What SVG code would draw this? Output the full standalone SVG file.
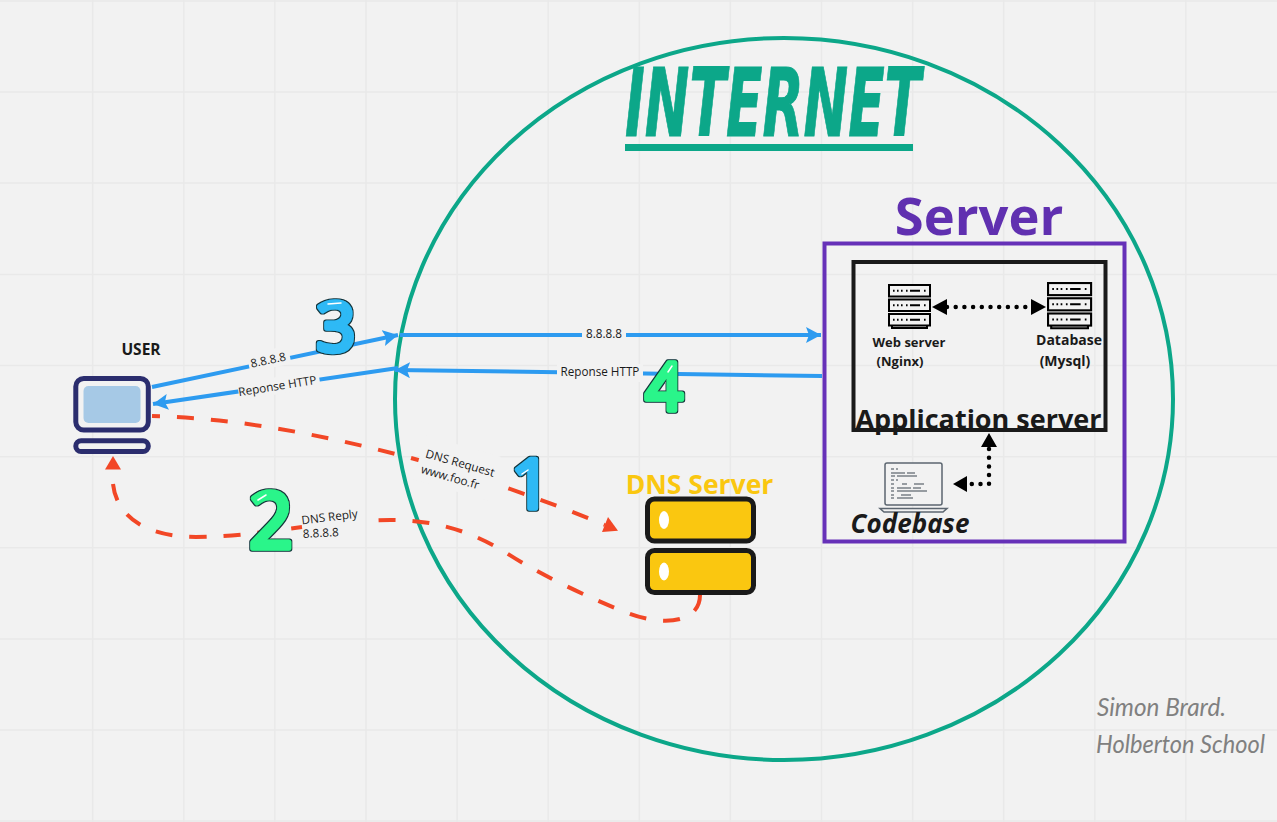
<svg xmlns="http://www.w3.org/2000/svg" width="1277" height="822" viewBox="0 0 1277 822">
<style>
text{font-family:"Open Sans","Liberation Sans",sans-serif;fill:#1a1a1a}
.grid line{stroke:#e9e9e9;stroke-width:1.5}
.blue{fill:none;stroke:#2d9bf0;stroke-width:4}
.red{fill:none;stroke:#f24726;stroke-width:4;stroke-dasharray:17 17}
.dots{fill:none;stroke:#000;stroke-width:4.5;stroke-linecap:round;stroke-dasharray:0 8.7}
.lab{font-size:11.7px;text-anchor:middle}
.gap{fill:#f2f2f2}
.b{font-weight:700}
.num{font-family:"Open Sans",sans-serif;font-weight:400;font-size:68px;stroke-width:5.5;stroke-linejoin:round;filter:url(#outline)}
.hand{font-family:"Lato","Liberation Sans",sans-serif;font-style:italic;font-weight:400;font-size:25px;fill:#808080}
.srv rect{fill:#f2f2f2;stroke:#000;stroke-width:2}
.srv path{fill:none;stroke:#000;stroke-width:2}
.hl{fill:none;stroke:#fff;stroke-width:1.5;stroke-linecap:round}
</style>
<defs>
<filter id="outline" x="-30%" y="-30%" width="160%" height="160%">
<feMorphology in="SourceAlpha" operator="dilate" radius="1.4" result="d"/>
<feFlood flood-color="#12343b"/>
<feComposite in2="d" operator="in" result="o"/>
<feMerge><feMergeNode in="o"/><feMergeNode in="SourceGraphic"/></feMerge>
</filter>
<marker id="ab" markerUnits="userSpaceOnUse" markerWidth="18" markerHeight="18" refX="15" refY="8" orient="auto-start-reverse"><path d="M0,0L15,8L0,16L3,8Z" fill="#2d9bf0"/></marker>
<g id="rack">
<g class="srv">
<rect x="1" y="1" width="41" height="11.5"/>
<rect x="1" y="15.5" width="41" height="11.5"/>
<rect x="1" y="30" width="41" height="11.5"/>
<path d="M4,41.5V44H39V41.5M5,6.7h1.6M9,6.7h1.6M13,6.7h1.6M18,6.7h1.6M22,6.7h10M36,6.7h1.6M5,21.2h1.6M9,21.2h1.6M13,21.2h1.6M18,21.2h1.6M22,21.2h10M36,21.2h1.6M5,35.7h1.6M9,35.7h1.6M13,35.7h1.6M18,35.7h1.6M22,35.7h10M36,35.7h1.6"/>
</g>
</g>
</defs>
<rect width="1277" height="822" fill="#f2f2f2"/>
<g class="grid">
<line x1="92.7" y1="0" x2="92.7" y2="822"/><line x1="183.8" y1="0" x2="183.8" y2="822"/><line x1="274.9" y1="0" x2="274.9" y2="822"/><line x1="366" y1="0" x2="366" y2="822"/><line x1="457.1" y1="0" x2="457.1" y2="822"/><line x1="548.2" y1="0" x2="548.2" y2="822"/><line x1="639.3" y1="0" x2="639.3" y2="822"/><line x1="730.4" y1="0" x2="730.4" y2="822"/><line x1="821.5" y1="0" x2="821.5" y2="822"/><line x1="912.6" y1="0" x2="912.6" y2="822"/><line x1="1003.7" y1="0" x2="1003.7" y2="822"/><line x1="1094.8" y1="0" x2="1094.8" y2="822"/><line x1="1185.9" y1="0" x2="1185.9" y2="822"/>
<line x1="0" y1="1" x2="1277" y2="1"/><line x1="0" y1="92" x2="1277" y2="92"/><line x1="0" y1="183" x2="1277" y2="183"/><line x1="0" y1="274.5" x2="1277" y2="274.5"/><line x1="0" y1="365.5" x2="1277" y2="365.5"/><line x1="0" y1="456.7" x2="1277" y2="456.7"/><line x1="0" y1="547.8" x2="1277" y2="547.8"/><line x1="0" y1="639" x2="1277" y2="639"/><line x1="0" y1="730" x2="1277" y2="730"/><line x1="0" y1="821" x2="1277" y2="821"/>
</g>
<g id="internet">
<ellipse cx="784" cy="399" rx="389" ry="361" fill="none" stroke="#0ca789" stroke-width="4"/>
<text x="625" y="136" font-size="95" font-weight="700" font-style="italic" textLength="296" lengthAdjust="spacingAndGlyphs" style="font-family:'DejaVu Sans','Liberation Sans',sans-serif;fill:#0ca789;stroke:#0ca789;stroke-width:1">INTERNET</text>
<rect x="625" y="144" width="288" height="7" fill="#0ca789"/>
</g>
<g id="connectors">
<path class="blue" d="M152,387L398,335" marker-end="url(#ab)"/>
<path class="blue" d="M398,368L153,404" marker-end="url(#ab)"/>
<path class="blue" d="M400,335L821,335" marker-end="url(#ab)"/>
<path class="blue" d="M822,376L395,370" marker-end="url(#ab)"/>
<path class="red" style="stroke-dashoffset:9" d="M152,416C235,418 320,434 411,458C470,474 545,500 605,525"/>
<path d="M618,530.700L608,517L602,532Z" fill="#f24726"/>
<path class="red" d="M700,595C700,622 665,628 625,612C590,598 540,575 505,552C460,525 420,517 365,521M113,484C116,512 140,537 196,537C235,537 270,531 302,527"/>
<path d="M105,469.500L113,456L121,469.500Z" fill="#f24726"/>
<path class="dots" d="M947,307H1031"/>
<path d="M932,307L947,299V315Z M1046,307L1031,299V315Z" fill="#000"/>
<path class="dots" d="M989,449V484H970"/>
<path d="M989,433L981,447H997Z M953,484L967,476V492Z" fill="#000"/>
<g id="edge-labels">
<rect class="gap" x="248" y="350" width="42" height="18" transform="rotate(-12 269 359)"/>
<text class="lab" transform="translate(269,364) rotate(-12)">8.8.8.8</text>
<rect class="gap" x="238" y="377" width="82" height="17" transform="rotate(-9 278 386)"/>
<text class="lab" transform="translate(278,390) rotate(-9)">Reponse HTTP</text>
<rect class="gap" x="582" y="326" width="44" height="18"/>
<text class="lab" x="604" y="338">8.8.8.8</text>
<rect class="gap" x="557" y="364" width="86" height="18"/>
<text class="lab" x="600" y="376">Reponse HTTP</text>
<rect class="gap" x="418" y="445" width="78" height="46" transform="rotate(16 457 468)"/>
<text class="lab" transform="translate(459,467) rotate(16)">DNS Request</text>
<text class="lab" transform="translate(449,481) rotate(16)">www.foo.fr</text>
<text class="lab" transform="translate(330,521) rotate(-7)">DNS Reply</text>
<text class="lab" transform="translate(321,537) rotate(-3)">8.8.8.8</text>
</g>
</g>
<g id="user">
<text x="141" y="355" class="b" font-size="15.500" text-anchor="middle">USER</text>
<rect x="75.800" y="378.500" width="72.500" height="51.500" rx="8" fill="#f2f2f2" stroke="#2b2d6e" stroke-width="5"/>
<rect x="83.500" y="386" width="57" height="37" rx="5" fill="#a6c9e6"/>
<rect x="75.800" y="440.800" width="72.500" height="10.700" rx="5.300" fill="#f2f2f2" stroke="#2b2d6e" stroke-width="5"/>
</g>
<g id="dns-server">
<text x="699.500" y="494" class="b" font-size="26.500" text-anchor="middle" style="fill:#fac710">DNS Server</text>
<rect x="647.500" y="499" width="106" height="42" rx="7" fill="#fac710" stroke="#1a1a1a" stroke-width="5"/>
<rect x="647.500" y="550.500" width="106" height="42" rx="7" fill="#fac710" stroke="#1a1a1a" stroke-width="5"/>
<ellipse cx="664" cy="520" rx="5" ry="9" fill="#fff"/>
<ellipse cx="664" cy="571.500" rx="5" ry="9" fill="#fff"/>
</g>
<g id="server">
<text x="979" y="235" class="b" font-size="52.500" text-anchor="middle" style="fill:#6030b0">Server</text>
<rect x="824.500" y="243.500" width="300" height="298" fill="none" stroke="#6631b8" stroke-width="4"/>
</g>
<g id="application-server">
<rect x="853.500" y="262" width="252" height="168" fill="none" stroke="#1a1a1a" stroke-width="4"/>
<text x="978.500" y="429" font-size="27" font-weight="700" text-anchor="middle">Application server</text>
</g>
<g id="web-server">
<use href="#rack" x="888" y="284"/>
<text x="909" y="347" class="b" font-size="13" text-anchor="middle">Web server</text>
<text x="900" y="366" class="b" font-size="13" text-anchor="middle">(Nginx)</text>
</g>
<g id="database">
<use href="#rack" transform="translate(1047,282) scale(1.05)"/>
<text x="1069" y="345" class="b" font-size="14" text-anchor="middle">Database</text>
<text x="1065" y="366" class="b" font-size="14" text-anchor="middle">(Mysql)</text>
</g>
<g id="codebase">
<rect x="885" y="463" width="57" height="42" rx="2" fill="#f2f2f2" stroke="#5c6670" stroke-width="1.500"/>
<path d="M880,508.500H947L943,512H884Z" fill="#f2f2f2" stroke="#5c6670" stroke-width="1.500"/>
<path d="M891,469h3M896,469h2M891,473h14M907,473h8M891,476h4M897,476h20M891,480h3M896,480h2M891,484h3M902,484h5M914,484h10M891,488h3M897,488h14M913,488h8M891,491h3M897,491h30M891,495h3M901,495h10M891,498h3M897,498h16" fill="none" stroke="#3c4650" stroke-width="1.200"/>
<text x="910" y="533" class="b" font-size="26" font-style="italic" text-anchor="middle">Codebase</text>
</g>
<g id="numbers">
<text class="num" x="336" y="351" text-anchor="middle" style="fill:#2db9f5;stroke:#2db9f5">3</text>
<text class="num" x="531" y="508" text-anchor="middle" style="fill:#2db9f5;stroke:#2db9f5">1</text>
<text class="num" x="271" y="548" text-anchor="middle" style="fill:#2cf58a;stroke:#2cf58a;font-size:76px">2</text>
<text class="num" x="664" y="410" text-anchor="middle" style="fill:#2cf58a;stroke:#2cf58a;font-size:65px">4</text>
<path class="hl" d="M328,304L341,303M522,474L528,470M258,500L266,495M668,372L672,366"/>
</g>
<g id="signature">
<text class="hand" x="1097" y="716" textLength="129" lengthAdjust="spacingAndGlyphs">Simon Brard.</text>
<text class="hand" x="1096" y="753" textLength="169" lengthAdjust="spacingAndGlyphs">Holberton School</text>
</g>
</svg>
